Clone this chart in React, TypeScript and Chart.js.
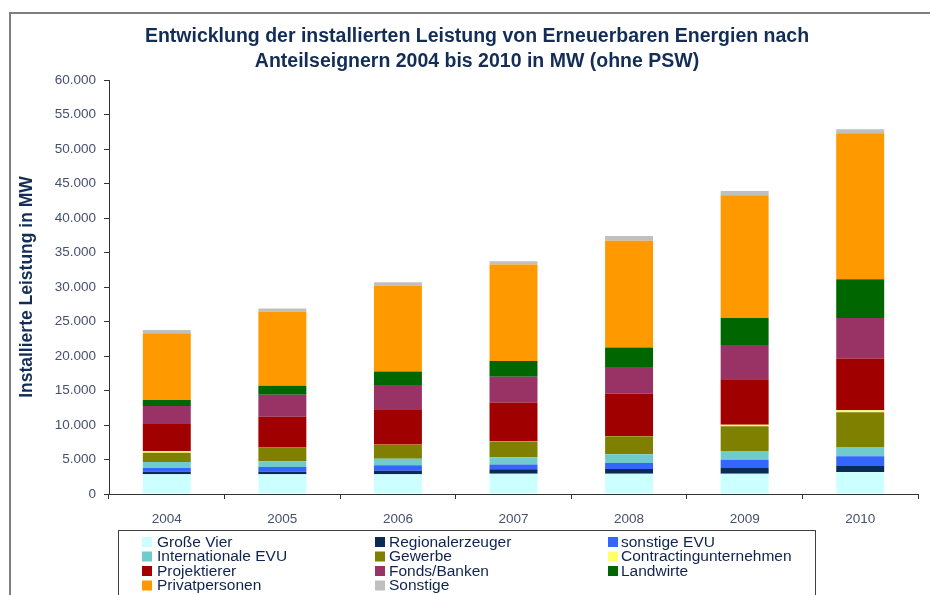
import React, { useEffect, useRef } from "react";
import { Chart, registerables } from "chart.js";

Chart.register(...registerables);

const years = ["2004", "2005", "2006", "2007", "2008", "2009", "2010"];

const grosseVier = [2850, 2850, 2850, 2950, 2950, 2950, 3200];
const regionalerzeuger = [390, 390, 530, 630, 680, 820, 870];
const sonstigeEVU = [530, 680, 770, 680, 870, 1210, 1400];
const internationaleEVU = [870, 820, 970, 1060, 1260, 1260, 1350];
const gewerbe = [1350, 1930, 1980, 2270, 2610, 3570, 5020];
const contracting = [200, 30, 30, 30, 30, 240, 290];
const projektierer = [3960, 4490, 5170, 5650, 6130, 6570, 7490];
const fondsBanken = [2610, 3190, 3480, 3720, 3860, 4980, 5890];
const landwirte = [870, 1300, 1980, 2270, 2850, 3910, 5600];
const privatpersonen = [9660, 10770, 12460, 14010, 15460, 17780, 21160];
const sonstige = [480, 420, 480, 480, 680, 630, 580];

const seriesLabels = [
  "Große Vier",
  "Regionalerzeuger",
  "sonstige EVU",
  "Internationale EVU",
  "Gewerbe",
  "Contractingunternehmen",
  "Projektierer",
  "Fonds/Banken",
  "Landwirte",
  "Privatpersonen",
  "Sonstige",
];
const seriesValues = [
  grosseVier,
  regionalerzeuger,
  sonstigeEVU,
  internationaleEVU,
  gewerbe,
  contracting,
  projektierer,
  fondsBanken,
  landwirte,
  privatpersonen,
  sonstige,
];
const seriesColors = [
  "#CCFFFF",
  "#0B2A55",
  "#3366FF",
  "#70CCCC",
  "#808000",
  "#FFFF66",
  "#A00000",
  "#993366",
  "#006600",
  "#FF9900",
  "#C0C0C0",
];

const titleLines = [
  "Entwicklung der installierten Leistung von Erneuerbaren Energien nach",
  "Anteilseignern 2004 bis 2010 in MW (ohne PSW)",
];
const yAxisTitle = "Installierte Leistung in MW";

const NAVY = "#132D57";
const TICK = "#46506E";
const FONT = "'Liberation Sans', Arial, sans-serif";

const decorPlugin = {
  id: "decor",
  afterDraw(chart: any) {
    const ctx = chart.ctx;
    ctx.save();
    // outer frame
    ctx.strokeStyle = "#7F7F7F";
    ctx.lineWidth = 2;
    ctx.strokeRect(10, 13, 940, 600);
    // title
    ctx.fillStyle = NAVY;
    ctx.font = "bold 19.5px " + FONT;
    ctx.textAlign = "center";
    ctx.textBaseline = "middle";
    ctx.fillText(titleLines[0], 477, 37);
    ctx.fillText(titleLines[1], 477, 62);
    // legend box
    ctx.strokeStyle = "#404040";
    ctx.lineWidth = 1;
    ctx.strokeRect(118.5, 530.5, 697, 80);
    const colsSq = [142, 375, 608];
    const colsTx = [157, 389, 621];
    const rowY = [542, 556.5, 571, 585.5];
    ctx.font = "15.5px " + FONT;
    ctx.textBaseline = "middle";
    ctx.textAlign = "left";
    chart.data.datasets.forEach((ds: any, i: number) => {
      const c = i % 3;
      const r = Math.floor(i / 3);
      const y = rowY[r];
      ctx.fillStyle = ds.backgroundColor;
      ctx.fillRect(colsSq[c], y - 5, 10, 10);
      ctx.fillStyle = "#0F2350";
      ctx.fillText(ds.label, colsTx[c], y + 0.5);
    });
    ctx.restore();
  },
};

export default function App() {
  const ref = useRef<HTMLCanvasElement | null>(null);
  useEffect(() => {
    if (!ref.current) return;
    const chart = new Chart(ref.current, {
      type: "bar",
      data: {
        labels: years,
        datasets: seriesLabels.map((label, i) => ({
          label,
          data: seriesValues[i],
          backgroundColor: seriesColors[i],
          borderWidth: 0,
          categoryPercentage: 1,
          barPercentage: 0.415,
        })),
      },
      options: {
        responsive: false,
        animation: false,
        layout: { padding: { left: 0, right: 12, top: 80, bottom: 71 } },
        plugins: {
          legend: { display: false },
          tooltip: { enabled: false },
          title: { display: false },
        },
        scales: {
          x: {
            stacked: true,
            grid: {
              display: true,
              drawOnChartArea: false,
              drawTicks: true,
              tickLength: 5,
              color: "#333333",
              offset: true,
            },
            border: { display: true, color: "#333333", width: 1 },
            ticks: {
              color: TICK,
              font: { family: FONT, size: 13.5 },
              padding: 12,
            },
            afterFit(scale: any) {
              scale.height = 30;
            },
          },
          y: {
            stacked: true,
            min: 0,
            max: 60000,
            grid: {
              display: true,
              drawOnChartArea: false,
              drawTicks: true,
              tickLength: 5,
              color: "#333333",
            },
            border: { display: true, color: "#333333", width: 1 },
            ticks: {
              stepSize: 5000,
              color: TICK,
              font: { family: FONT, size: 13.5 },
              padding: 8,
              callback: (v: any) =>
                Number(v)
                  .toString()
                  .replace(/\B(?=(\d{3})+(?!\d))/g, "."),
            },
            title: {
              display: true,
              text: yAxisTitle,
              color: NAVY,
              font: { family: FONT, size: 17.5, weight: "bold", lineHeight: 1.2 },
              padding: { top: 17, bottom: 0 },
            },
            afterFit(scale: any) {
              scale.width = 109;
            },
          },
        },
      },
      plugins: [decorPlugin],
    });
    return () => chart.destroy();
  }, []);
  return (
    <div style={{ position: "absolute", left: 0, top: 0, width: 930, height: 595, background: "#fff" }}>
      <canvas ref={ref} width={930} height={595} />
    </div>
  );
}
